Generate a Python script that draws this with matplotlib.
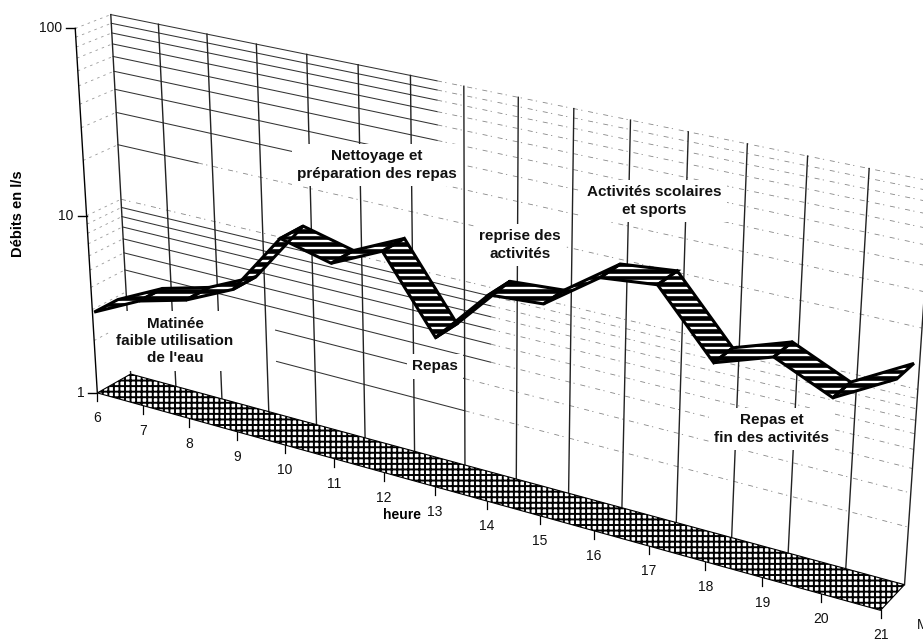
import numpy as np
import matplotlib
matplotlib.use("Agg")
import matplotlib.pyplot as plt
from matplotlib.patches import Polygon

plt.rcParams['font.family'] = ['Liberation Sans', 'DejaVu Sans']

heures = list(range(6, 22))
debits = [2.87, 3.87, 4.57, 6.1, 13.3, 11.4, 15.3, 6.3, 12.3, 12.9, 20.4, 21.9, 10.5, 13.2, 9.8, 14.3]
graduations = [1, 10, 100]
grille = [2, 3, 4, 5, 6, 7, 8, 9, 10, 20, 30, 40, 50, 60, 70, 80, 90, 100]

# corners of the 3d box: hour, depth, decade -> where they fall on the page
coins_3d = [(6, 0, 0), (21, 0, 0), (6, 1, 0), (21, 1, 0), (6, 1, 2), (21, 1, 2), (6, 0, 2), (21, 0, 2)]
coins_2d = [(97, 393), (880, 612), (131, 374), (905, 583), (110, 13), (932, 185), (76, 30), (907, 197)]

A = []
b = []
for (h, d, z), (u, v) in zip(coins_3d, coins_2d):
    t = (h - 6) / 15
    A.append([t, d, z, 1, 0, 0, 0, 0, -u * t, -u * d, -u * z])
    b.append(u)
    A.append([0, 0, 0, 0, t, d, z, 1, -v * t, -v * d, -v * z])
    b.append(v)
P = np.linalg.lstsq(np.array(A, float), np.array(b, float), rcond=None)[0]


def proj(h, d, q):
    t = (np.asarray(h, float) - 6) / 15
    z = np.log10(q)
    w = P[8] * t + P[9] * d + P[10] * z + 1
    return (P[0] * t + P[1] * d + P[2] * z + P[3]) / w, (P[4] * t + P[5] * d + P[6] * z + P[7]) / w


fig = plt.figure(figsize=(9.23, 6.42), dpi=100)
ax = fig.add_axes([0, 0, 1, 1])
ax.set_xlim(0, 923)
ax.set_ylim(642, 0)
ax.axis("off")

dash = (0, (6, 4, 1.5, 7))

# back wall
for q in grille:
    if q <= 10:
        debut = 6 if q >= 4 else 9.2
        coupe = 13.5 if q >= 4 else 13
        if q == 10:
            coupe = 6
    else:
        debut = 6
        coupe = 12.5 if q >= 30 else 7.7
    if coupe > debut:
        x, y = proj([debut, coupe], 1, q)
        ax.plot(x, y, color="#333333", lw=0.75, zorder=1)
    x, y = proj([coupe, 21], 1, q)
    ax.plot(x, y, color="#888888", lw=0.6, ls=dash, zorder=1)

for h in heures:
    x, y = proj([h, h], 1, np.array([1, 100]))
    ax.plot(x, y, color="#222222", lw=1.0, zorder=1)

# left wall
for q in grille:
    x, y = proj([6, 6], np.array([0, 1]), q)
    ax.plot(x, y, color="#999999", lw=0.6, ls=(0, (3, 5)), zorder=1)

# left axis
x, y = proj([6, 6], 0, np.array([1, 100]))
ax.plot(x, y, color="black", lw=1.0, zorder=2)
for q in graduations:
    x, y = proj(6, 0, q)
    ax.plot([x - 9, x], [y, y], color="black", lw=1.0, zorder=2)
    ax.text(x - 13, y, str(q), ha="right", va="center", fontsize=10, color="#111111")

ax.text(18, 214, "Débits en l/s", rotation=90, ha="center", va="center", fontsize=10.5, fontweight="bold")

# floor
plt.rcParams['hatch.linewidth'] = 1.4
x0, y0 = proj([6, 21], 0, 1)
x1, y1 = proj([21, 6], 1, 1)
sol = Polygon(np.column_stack([np.r_[x0, x1], np.r_[y0, y1]]), facecolor="white", edgecolor="black",
              hatch="+++", lw=0.8, zorder=4)
ax.add_patch(sol)

for h in heures:
    x, y = proj(h, 0, 1)
    ax.plot([x, x], [y, y + 8], color="black", lw=0.9, zorder=3)
    ax.text(x, y + 25, str(h), ha="center", va="center", fontsize=10, color="#111111")

ax.text(402, 515, "heure", ha="center", va="center", fontsize=10, fontweight="bold")
ax.text(917, 625, "M", ha="left", va="center", fontsize=10, color="#111111")

# labels sit on white so that they cut the grid
fond = dict(facecolor="white", edgecolor="none", pad=4)
notes = [
    (377, 165, "Nettoyage et\npréparation des repas"),
    (175, 341, "Matinée\nfaible utilisation\nde l'eau"),
    (435, 366, "Repas"),
    (520, 245, "reprise des\nactivités"),
    (654, 201, "Activités scolaires\net sports"),
    (772, 429, "Repas et\nfin des activités"),
]
for x, y, s in notes:
    ax.text(x, y, s, ha="center", va="center", fontsize=11, fontweight="bold", linespacing=1.3,
            color="#111111", bbox=fond, zorder=3)

# ribbon: black faces with thin white stripes
d_av, d_ar = 0.05, 0.75
rayures = np.arange(0, 642, 6.7)
for i in range(len(heures) - 1):
    hh = [heures[i], heures[i + 1]]
    qq = np.array([debits[i], debits[i + 1]])
    xa, ya = proj(hh, d_av, qq)
    xb, yb = proj(hh, d_ar, qq)
    pts = np.column_stack([np.r_[xa, xb[::-1]], np.r_[ya, yb[::-1]]])
    face = Polygon(pts, facecolor="black", edgecolor="none", zorder=5)
    ax.add_patch(face)
    lignes = ax.hlines(rayures, pts[:, 0].min(), pts[:, 0].max(), color="white", lw=1.7, zorder=5.5)
    lignes.set_clip_path(face)
    ax.add_patch(Polygon(pts, facecolor="none", edgecolor="black", lw=2.2, joinstyle="miter", zorder=6))

fig.savefig("out.png", dpi=100)
